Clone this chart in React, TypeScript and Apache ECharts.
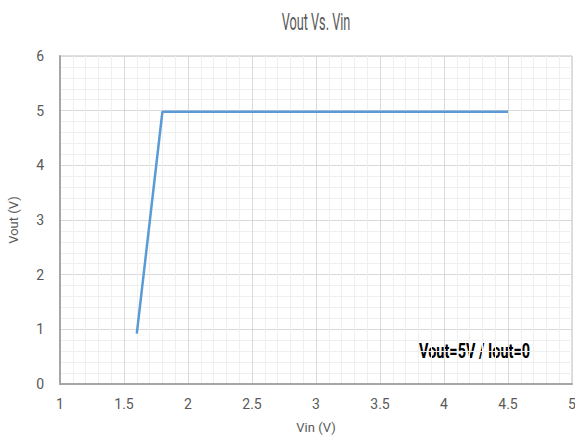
import React, { useEffect, useRef } from "react";
import * as echarts from "echarts";

const vin = [1.6, 1.8, 2.0, 2.5, 3.0, 3.5, 4.0, 4.5];
const vout = [0.92, 4.98, 4.98, 4.98, 4.98, 4.98, 4.98, 4.98];
const titleText = "Vout Vs. Vin";
const xName = "Vin (V)";
const yName = "Vout (V)";
const note = "Vout=5V / Iout=0";

const FONT = "Roboto, sans-serif";

export default function App() {
  const ref = useRef<HTMLDivElement>(null);
  useEffect(() => {
    if (!ref.current) return;
    const chart = echarts.init(ref.current, null, { renderer: "svg" });
    chart.setOption({
      animation: false,
      backgroundColor: "#ffffff",
      grid: {
        left: 60,
        right: 3,
        top: 56,
        bottom: 55,
        show: true,
        borderColor: "#bfbfbf",
        borderWidth: 1,
        containLabel: false,
        outerBoundsMode: "none",
      },
      xAxis: {
        type: "value",
        min: 1,
        max: 5,
        interval: 0.5,
        name: xName,
        nameLocation: "middle",
        nameGap: 37,
        nameMoveOverlap: false,
        nameTextStyle: { fontFamily: FONT, fontSize: 13, color: "#595959" },
        axisLine: { show: true, lineStyle: { color: "#a6a6a6", width: 2 } },
        axisTick: { show: false },
        axisLabel: {
          margin: 13,
          fontFamily: FONT,
          fontSize: 14,
          color: "#595959",
          formatter: (v: number) => String(v),
        },
        splitLine: { show: true, lineStyle: { color: "#d9d9d9", width: 1 } },
        minorTick: { show: false, splitNumber: 5 },
        minorSplitLine: { show: true, lineStyle: { color: "#efefef", width: 1 } },
      },
      yAxis: {
        type: "value",
        min: 0,
        max: 6,
        interval: 1,
        name: yName,
        nameLocation: "middle",
        nameGap: 40,
        nameMoveOverlap: false,
        nameTextStyle: { fontFamily: FONT, fontSize: 13, color: "#595959" },
        axisLine: { show: true, lineStyle: { color: "#a6a6a6", width: 2 } },
        axisTick: { show: false },
        axisLabel: {
          margin: 16,
          fontFamily: FONT,
          fontSize: 14,
          color: "#595959",
        },
        splitLine: { show: true, lineStyle: { color: "#d9d9d9", width: 1 } },
        minorTick: { show: false, splitNumber: 5 },
        minorSplitLine: { show: true, lineStyle: { color: "#efefef", width: 1 } },
      },
      series: [
        {
          type: "line",
          data: vin.map((x, i) => [x, vout[i]]),
          showSymbol: false,
          symbol: "none",
          lineStyle: { color: "#5b9bd5", width: 2.5 },
        },
      ],
      graphic: [
        {
          type: "text",
          x: 316,
          y: 22,
          scaleX: 0.53,
          style: {
            text: titleText,
            fontFamily: FONT,
            fontSize: 24,
            fill: "#595959",
            textAlign: "center",
            textVerticalAlign: "middle",
          },
        },
        {
          type: "text",
          x: 419,
          y: 350,
          scaleX: 0.69,
          style: {
            text: note,
            fontFamily: FONT,
            fontSize: 21,
            fontWeight: "bold",
            fill: "#000000",
            textAlign: "left",
            textVerticalAlign: "middle",
          },
        },
      ],
    });
    return () => chart.dispose();
  }, []);
  return (
    <div
      ref={ref}
      style={{ position: "fixed", left: 0, top: 0, width: 575, height: 439 }}
    />
  );
}
